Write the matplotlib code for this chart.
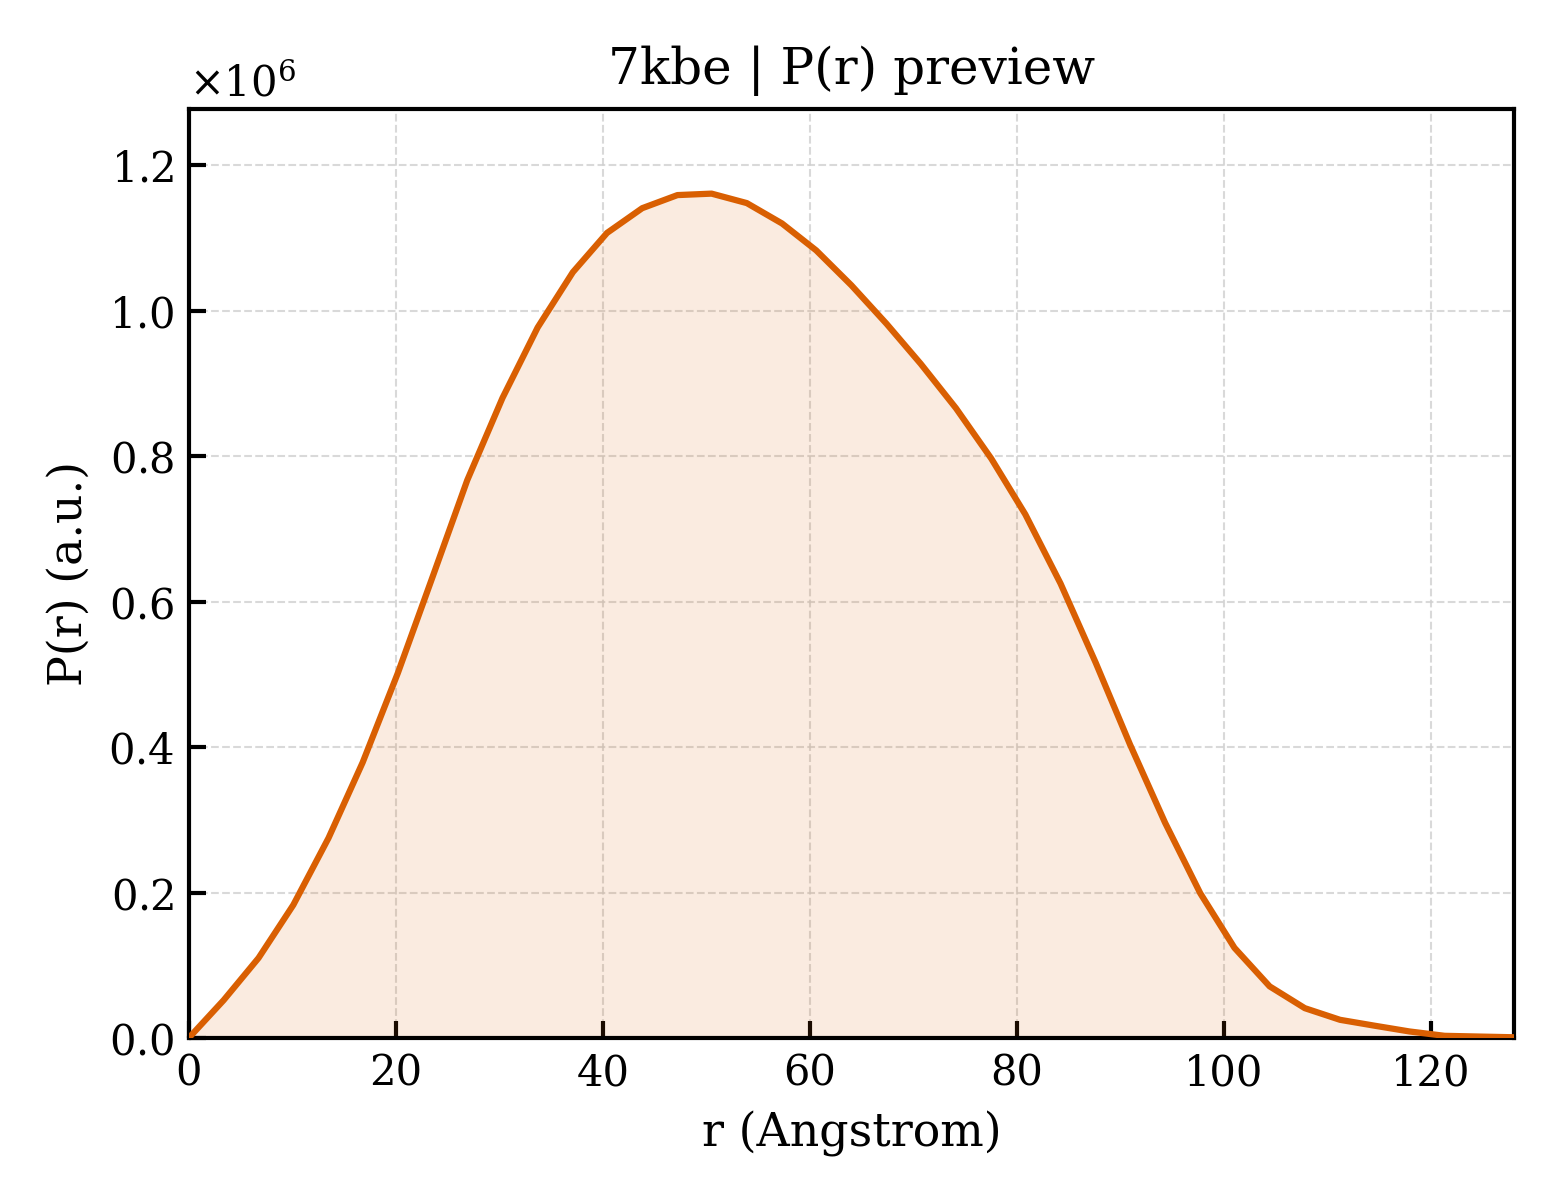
import matplotlib
matplotlib.use("Agg")
import matplotlib.pyplot as plt

r = [0.0, 3.37, 6.74, 10.1, 13.5, 16.8, 20.2, 23.6, 26.9, 30.3, 33.7, 37.1,
     40.4, 43.8, 47.2, 50.5, 53.9, 57.3, 60.6, 64.0, 67.4, 70.7, 74.1, 77.5,
     80.8, 84.2, 87.6, 90.9, 94.3, 97.7, 101.0, 104.4, 107.8, 111.2, 114.5,
     117.9, 121.3, 124.6, 128.0]
pr = [0.0, 0.052, 0.110, 0.183, 0.275, 0.379, 0.502, 0.636, 0.767, 0.880,
      0.977, 1.053, 1.107, 1.141, 1.159, 1.161, 1.148, 1.120, 1.083, 1.035,
      0.982, 0.927, 0.866, 0.797, 0.720, 0.625, 0.516, 0.404, 0.296, 0.199,
      0.124, 0.071, 0.041, 0.025, 0.017, 0.009, 0.003, 0.002, 0.001]
pr = [v * 1e6 for v in pr]

plt.rcParams["font.family"] = "DejaVu Serif"
plt.rcParams["mathtext.fontset"] = "dejavuserif"

color = "#d95f02"

fig = plt.figure(figsize=(5.2, 4), dpi=300)
ax = fig.add_axes([0.121, 0.135, 0.8495, 0.774])
ax.plot(r, pr, color=color, lw=1.5, zorder=3)
ax.fill_between(r, pr, 0, color=color, alpha=0.12, lw=0, zorder=2)

ax.set_xlim(0, 128)
ax.set_ylim(0, max(pr) * 1.1)
ax.ticklabel_format(axis="y", style="sci", scilimits=(0, 0), useMathText=True)
ax.grid(True, ls="--", lw=0.5, color="#d0d0d0", alpha=0.8)
ax.tick_params(direction="in", labelsize=10, width=1, length=4)
for s in ax.spines.values():
    s.set_linewidth(1.0)
ax.yaxis.get_offset_text().set_fontsize(10)

ax.set_xlabel("r (Angstrom)", fontsize=11)
ax.set_ylabel("P(r) (a.u.)", fontsize=11)
ax.set_title("7kbe | P(r) preview", fontsize=12)

fig.savefig("out.png", dpi=300)
